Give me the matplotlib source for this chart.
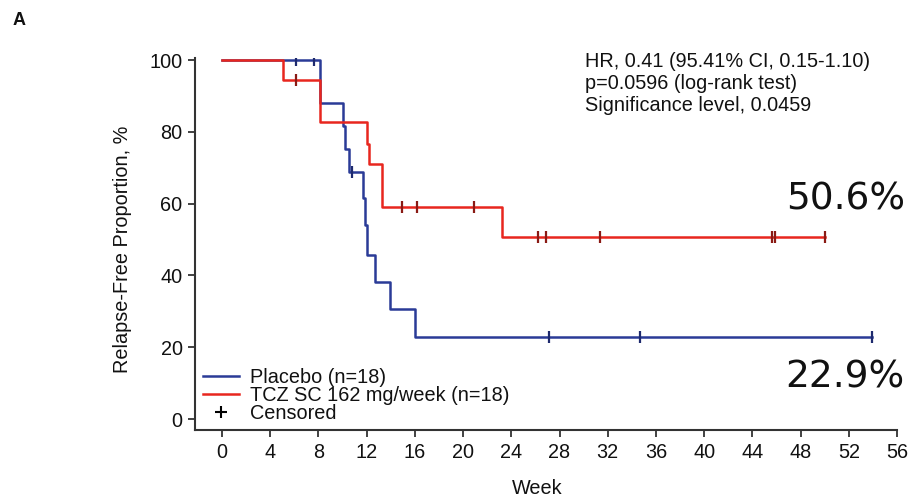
import matplotlib
matplotlib.use("Agg")
import matplotlib.pyplot as plt
from matplotlib.lines import Line2D

# ---- data ----
placebo_weeks = [0, 8.1, 10.0, 10.2, 10.5, 11.7, 11.9, 12.0, 12.7, 13.9, 16.0, 53.9]
placebo_surv = [100, 88.0, 81.6, 75.3, 68.8, 61.5, 54.0, 45.7, 38.2, 30.6, 22.9, 22.9]
placebo_censor_weeks = [6.1, 7.6, 10.8, 27.1, 34.7, 53.9]

tcz_weeks = [0, 5.1, 8.1, 12.0, 12.2, 13.3, 23.2, 50.0]
tcz_surv = [100, 94.4, 82.7, 76.5, 70.9, 59.1, 50.6, 50.6]
tcz_censor_weeks = [6.1, 14.9, 16.2, 20.9, 26.2, 26.9, 31.4, 45.6, 45.9, 50.0]

x_ticks = list(range(0, 57, 4))
y_ticks = [0, 20, 40, 60, 80, 100]

legend_labels = ["Placebo (n=18)", "TCZ SC 162 mg/week (n=18)", "Censored"]
stats_lines = ["HR, 0.41 (95.41% CI, 0.15-1.10)",
               "p=0.0596 (log-rank test)",
               "Significance level, 0.0459"]
final_labels = ["50.6%", "22.9%"]

BLUE = "#2a3b97"
RED = "#e8261e"
FONT = "Liberation Sans"
FS = 14.3


def surv_at(weeks, surv, t):
    val = surv[0]
    for w, s in zip(weeks, surv):
        if w <= t:
            val = s
    return val


fig = plt.figure(figsize=(9.1, 5.0), dpi=100)
W, H = 910, 500
ax = fig.add_axes([195 / W, 70 / H, 702 / W, (430 - 58) / H])

ax.step(placebo_weeks, placebo_surv, where="post", color=BLUE, lw=1.8)
ax.step(tcz_weeks, tcz_surv, where="post", color=RED, lw=1.8)

ax.plot(placebo_censor_weeks,
        [surv_at(placebo_weeks, placebo_surv, t) for t in placebo_censor_weeks],
        ls="none", marker="|", ms=8, mew=1.6, color="#1e2a6e")
ax.plot(tcz_censor_weeks,
        [surv_at(tcz_weeks, tcz_surv, t) for t in tcz_censor_weeks],
        ls="none", marker="|", ms=8, mew=1.6, color="#8a1a14")

ax.set_xlim(-2.24, 56)
ax.set_ylim(-3.06, 100.56)
ax.set_xticks(x_ticks)
ax.set_yticks(y_ticks)
for s in ["top", "right"]:
    ax.spines[s].set_visible(False)
for s in ["left", "bottom"]:
    ax.spines[s].set_color("#333333")
    ax.spines[s].set_linewidth(1.5)
ax.tick_params(direction="out", length=5, width=1.3, color="#333333",
               labelsize=FS, pad=4)
for lab in ax.get_xticklabels() + ax.get_yticklabels():
    lab.set_fontfamily(FONT)
    lab.set_color("#111111")

ax.set_ylabel("Relapse-Free Proportion, %", fontsize=FS, family=FONT, color="#111111")
ax.yaxis.set_label_coords((132 - 195) / 702, (430 - 249) / 372)
ax.set_xlabel("Week", fontsize=FS, family=FONT, color="#111111")
ax.xaxis.set_label_coords((537 - 195) / 702, (430 - 479) / 372)

handles = [Line2D([], [], color=BLUE, lw=1.8),
           Line2D([], [], color=RED, lw=1.8),
           Line2D([], [], ls="none", marker="+", ms=9, mew=1.5, color="black")]
leg = ax.legend(handles, legend_labels, loc="lower left",
                bbox_to_anchor=((203 - 195) / 702, (430 - 423) / 372),
                frameon=False, borderpad=0, borderaxespad=0,
                handlelength=1.8, handletextpad=0.55, labelspacing=-0.04,
                prop={"family": FONT, "size": FS})
for t in leg.get_texts():
    t.set_color("#111111")

for txt, yb in zip(stats_lines, [67, 89, 111]):
    fig.text(585 / W, 1 - yb / H, txt, ha="left", va="baseline",
             fontsize=FS, family=FONT, color="#111111")

fig.text(786 / W, 1 - 210 / H, final_labels[0], ha="left", va="baseline",
         fontsize=27, family="DejaVu Sans", color="#111111")
fig.text(785 / W, 1 - 387 / H, final_labels[1], ha="left", va="baseline",
         fontsize=27, family="DejaVu Sans", color="#111111")

fig.text(13 / W, 1 - 25 / H, "A", ha="left", va="baseline", fontsize=13,
         fontweight="bold", family=FONT, color="#111111")

fig.savefig("out.png", dpi=100)
